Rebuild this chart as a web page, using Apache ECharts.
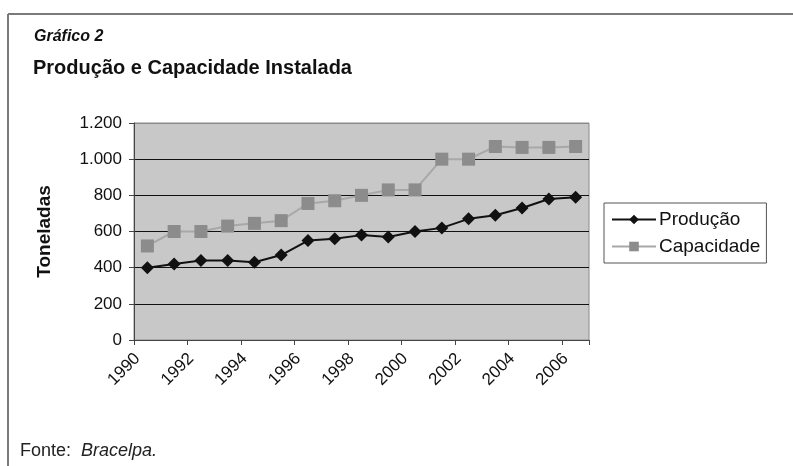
<!DOCTYPE html>
<html>
<head>
<meta charset="utf-8">
<script src="https://cdn.jsdelivr.net/npm/echarts@6/dist/echarts.min.js"></script>
<style>
html,body{margin:0;padding:0;background:#fff;}
#chart{width:793px;height:466px;}
</style>
</head>
<body>
<div id="chart"></div>
<script>
var years = ['1990','1991','1992','1993','1994','1995','1996','1997','1998','1999','2000','2001','2002','2003','2004','2005','2006'];
var producao = [400,420,440,440,430,470,550,560,580,570,600,620,670,690,730,780,790];
var capacidade = [520,600,600,630,645,660,755,770,800,830,830,1000,1000,1070,1065,1065,1070];
var yTicks = [0,200,400,600,800,1000,1200];

var FONT = '"Liberation Sans", Arial, Helvetica, sans-serif';
var chart = echarts.init(document.getElementById('chart'));
chart.setOption({
  animation: false,
  backgroundColor: '#fff',
  textStyle: {fontFamily: FONT},
  graphic: [
    {type:'line', shape:{x1:8,y1:14,x2:793,y2:14}, style:{stroke:'#7a7a7a', lineWidth:2}},
    {type:'line', shape:{x1:8,y1:14,x2:8,y2:466}, style:{stroke:'#7a7a7a', lineWidth:2}},
    {type:'text', left:34, top:29, style:{text:'Gráfico 2', font:'italic bold 16px '+FONT, fill:'#111'}},
    {type:'text', left:33, top:58, style:{text:'Produção e Capacidade Instalada', font:'bold 20px '+FONT, fill:'#111'}},
    {type:'text', left:20, top:442, style:{
      text:'{a|Fonte:  }{b|Bracelpa.}',
      rich:{a:{font:'18px '+FONT, fill:'#222'}, b:{font:'italic 18px '+FONT, fill:'#222'}}
    }}
  ],
  grid: {left:134, right:204, top:123, bottom:126, show:true, backgroundColor:'#c8c8c8', borderColor:'#8a8a8a', borderWidth:1},
  legend: {
    orient:'vertical', left:604, top:203,
    backgroundColor:'#fff', borderColor:'#555', borderWidth:1, padding:[7,6,7,7],
    itemWidth:44, itemHeight:12, itemGap:8,
    textStyle:{fontSize:19, color:'#111', fontFamily:FONT, padding:[0,0,0,-2]},
    data:['Produção','Capacidade']
  },
  xAxis: {
    type:'category', data:years, boundaryGap:true,
    axisLine:{lineStyle:{color:'#444', width:1}},
    axisTick:{show:true, length:5, lineStyle:{color:'#444'}},
    axisLabel:{interval:1, rotate:45, fontSize:17, color:'#111', margin:6, padding:[0,14,0,0]}
  },
  yAxis: {
    type:'value', min:yTicks[0], max:yTicks[yTicks.length-1], interval:200,
    name:'Toneladas', nameLocation:'middle', nameGap:80, nameRotate:90,
    nameTextStyle:{fontSize:19, fontWeight:'bold', color:'#111'},
    axisLine:{show:true, lineStyle:{color:'#444'}},
    axisTick:{show:true, length:5, lineStyle:{color:'#444'}},
    axisLabel:{fontSize:17, color:'#111', margin:12, formatter:function(v){return v>=1000 ? (Math.floor(v/1000)+'.'+String(v%1000).padStart(3,'0')) : String(v);}},
    splitLine:{show:true, lineStyle:{color:['#444','#111','#111','#111','#111','#111','#8a8a8a'], width:1}}
  },
  series: [
    {name:'Produção', type:'line', data:producao, symbol:'diamond', symbolSize:13,
     itemStyle:{color:'#111'}, lineStyle:{color:'#111', width:2}},
    {name:'Capacidade', type:'line', data:capacidade, symbol:'rect', symbolSize:13,
     itemStyle:{color:'#8c8c8c'}, lineStyle:{color:'#a8a8a8', width:2}}
  ]
});
</script>
</body>
</html>
